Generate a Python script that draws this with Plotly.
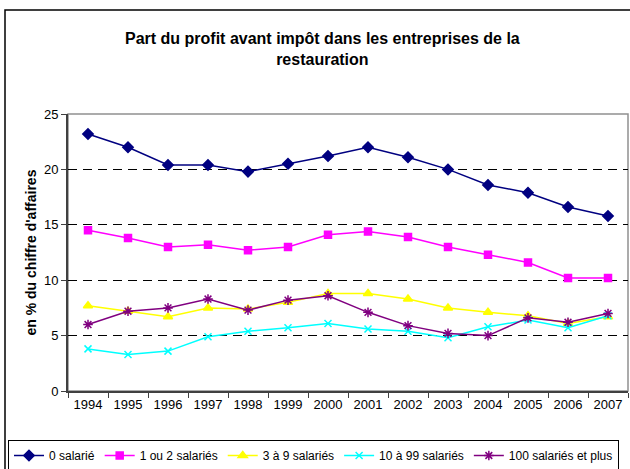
import plotly.graph_objects as go

years = ["1994", "1995", "1996", "1997", "1998", "1999", "2000",
         "2001", "2002", "2003", "2004", "2005", "2006", "2007"]

sal_0 = [23.2, 22.0, 20.4, 20.4, 19.8, 20.5, 21.2,
         22.0, 21.1, 20.0, 18.6, 17.9, 16.6, 15.8]
sal_1_2 = [14.5, 13.8, 13.0, 13.2, 12.7, 13.0, 14.1,
           14.4, 13.9, 13.0, 12.3, 11.6, 10.2, 10.2]
sal_3_9 = [7.7, 7.2, 6.7, 7.5, 7.4, 8.0, 8.8,
           8.8, 8.3, 7.5, 7.1, 6.8, 6.1, 6.7]
sal_10_99 = [3.8, 3.3, 3.6, 4.9, 5.4, 5.7, 6.1,
             5.6, 5.4, 4.8, 5.8, 6.4, 5.7, 6.8]
sal_100 = [6.0, 7.2, 7.5, 8.3, 7.3, 8.2, 8.6,
           7.1, 5.9, 5.2, 5.0, 6.6, 6.2, 7.0]

series = [
    ("0 salarié", sal_0, "#000080", "diamond", 8),
    ("1 ou 2 salariés", sal_1_2, "#FF00FF", "square", 7),
    ("3 à 9 salariés", sal_3_9, "#FFFF00", "triangle-up", 8),
    ("10 à 99 salariés", sal_10_99, "#00FFFF", "x-thin-open", 7),
    ("100 salariés et plus", sal_100, "#800080", "asterisk-open", 8),
]

fig = go.Figure()

for name, vals, color, symbol, size in series:
    fig.add_trace(go.Scatter(
        x=years,
        y=vals,
        mode="lines+markers",
        name=name,
        line=dict(color=color, width=1.5),
        marker=dict(symbol=symbol, size=size, color=color,
                    line=dict(color=color, width=1.5)),
    ))

# plot area gray frame (top / right)
fig.add_shape(type="rect", xref="paper", yref="paper", x0=0, x1=1, y0=0, y1=1,
              line=dict(color="#909090", width=1.5), layer="below")

# outer chart border
fig.add_shape(type="rect", xref="paper", yref="paper",
              x0=-63 / 560, x1=1.05, y0=-0.3, y1=381 / 277,
              line=dict(color="black", width=1.5))

fig.add_annotation(
    text="<b>Part du profit avant impôt dans les entreprises de la<br>restauration</b>",
    xref="paper", yref="paper", x=254 / 560, y=(391 - 28) / 277,
    xanchor="center", yanchor="top", showarrow=False,
    font=dict(size=16, color="black"), align="center"
)

fig.add_annotation(
    text="<b>en % du chiffre d'affaires</b>",
    xref="paper", yref="paper", x=-38 / 560, y=0.5,
    xanchor="center", yanchor="middle", textangle=-90, showarrow=False,
    font=dict(size=14, color="black")
)

fig.update_layout(
    width=630,
    height=469,
    margin=dict(l=68, r=2, t=114, b=78, autoexpand=False),
    paper_bgcolor="white",
    plot_bgcolor="white",
    font=dict(family="Liberation Sans, Arial, sans-serif", color="black", size=13),
    showlegend=True,
    legend=dict(
        orientation="h",
        x=-60 / 560, y=-49 / 277,
        xanchor="left", yanchor="top",
        bordercolor="black", borderwidth=1,
        font=dict(size=12),
        itemwidth=30,
        tracegroupgap=0,
    ),
    xaxis=dict(
        type="category",
        range=[-0.5, 13.5],
        tickson="boundaries",
        ticks="outside",
        ticklen=5,
        tickcolor="#404040",
        showline=True,
        linecolor="#404040",
        linewidth=2,
        showgrid=False,
        tickfont=dict(size=13),
    ),
    yaxis=dict(
        range=[0, 25],
        dtick=5,
        ticks="outside",
        ticklen=5,
        tickcolor="#404040",
        showline=True,
        linecolor="#404040",
        linewidth=2,
        showgrid=True,
        gridcolor="black",
        gridwidth=1,
        griddash="9px,6px",
        zeroline=False,
        tickfont=dict(size=13),
    ),
)

fig.write_html("out.html", config={"displayModeBar": False},
               post_script="document.body.style.margin='0';")
